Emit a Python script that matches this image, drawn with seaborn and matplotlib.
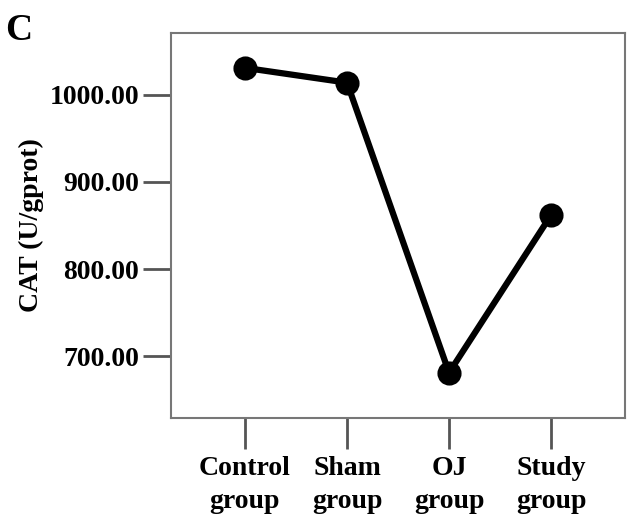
import matplotlib
matplotlib.use("Agg")
import matplotlib.pyplot as plt
import seaborn as sns

# ── Data ─────────────────────────────────────────────────────────────────────
groups = ["Control\ngroup", "Sham\ngroup", "OJ\ngroup", "Study\ngroup"]
cat_values = [1031.0, 1014.0, 681.0, 862.0]
y_ticks = [700, 800, 900, 1000]
y_tick_labels = ["700.00", "800.00", "900.00", "1000.00"]

sns.set_style("white")
plt.rcParams["font.family"] = ["Liberation Serif", "DejaVu Serif"]
plt.rcParams["font.weight"] = "bold"
plt.rcParams["text.color"] = "black"
plt.rcParams["axes.labelcolor"] = "black"
plt.rcParams["xtick.labelcolor"] = "black"
plt.rcParams["ytick.labelcolor"] = "black"

fig = plt.figure(figsize=(6.32, 5.19), dpi=100)
ax = fig.add_axes([0.2706, 0.1946, 0.7184, 0.7418])

sns.pointplot(x=groups, y=cat_values, color="black", errorbar=None,
              markers="o", markersize=14, linewidth=4.5, ax=ax)

ax.set_xlim(-0.725, 3.725)
ax.set_ylim(629, 1071)
ax.set_yticks(y_ticks)
ax.set_yticklabels(y_tick_labels)

for s in ax.spines.values():
    s.set_color("#777777")
    s.set_linewidth(1.5)

ax.tick_params(axis="y", direction="out", length=20, width=2, color="#555555",
               labelsize=20, pad=3, left=True, labelcolor="black")
ax.tick_params(axis="x", direction="out", length=22, width=2, color="#555555",
               labelsize=20, pad=5, bottom=True, labelcolor="black")
for lab in ax.get_xticklabels() + ax.get_yticklabels():
    lab.set_fontweight("bold")
for lab in ax.get_xticklabels():
    lab.set_linespacing(1.45)

ax.set_xlabel("")
ax.set_ylabel("CAT (U/gprot)", fontsize=20, fontweight="bold", labelpad=4,
              color="black")

fig.text(0.008, 0.975, "C", fontsize=27, fontweight="bold", va="top", ha="left")

fig.savefig("out.png", dpi=100)
